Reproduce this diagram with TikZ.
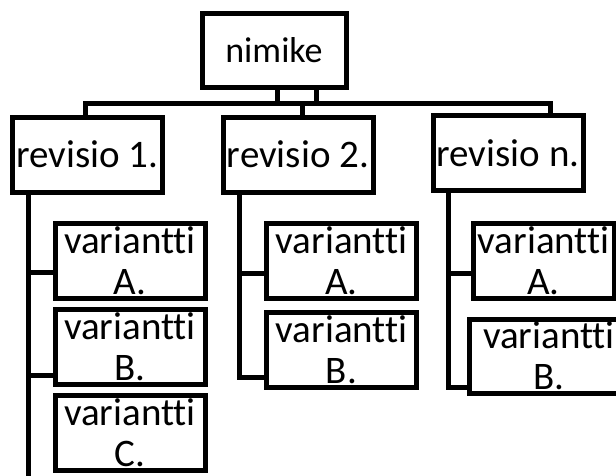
\documentclass[tikz,border=0pt]{standalone}
\usepackage{fontspec}
\setmainfont{Carlito}[Ligatures=NoCommon]
\begin{document}
\begin{tikzpicture}[x=1pt,y=-1pt,
  line width=5pt,
  box/.style={draw, line width=5pt, fill=white, inner sep=0pt, minimum width=150pt, minimum height=75pt, align=center, font=\fontsize{39}{41}\selectfont},
  conn/.style={draw, line width=5pt}]
\useasboundingbox (0,0) rectangle (616,475);
\clip (0,0) rectangle (616,475);
% nodes
\node[box, minimum width=144pt, minimum height=74pt, font=\fontsize{36}{40}\selectfont] (nimike) at (274,50) {nimike};
\node[box] (r1) at (87.5,154.5) {revisio 1.};
\node[box] (r2) at (298,154.5) {revisio 2.};
\node[box] (rn) at (508,153) {revisio n.};
\node[box] (v1a) at (130,260.5) {variantti\\A.};
\node[box] (v1b) at (130,346.5) {variantti\\B.};
\node[box] (v1c) at (130,433) {variantti\\C.};
\node[box] (v2a) at (341.5,260.5) {variantti\\A.};
\node[box] (v2b) at (341.5,349.5) {variantti\\B.};
\node[box, minimum width=141pt] (vna) at (543.5,260.5) {variantti\\A.};
\node[box, minimum width=160pt, minimum height=74pt] (vnb) at (549,356) {variantti\\B.};
% coordinates
\coordinate (busL) at (85,103);
\coordinate (busR) at (550,103);
\coordinate (bus2) at (302,103);
\coordinate (nl) at (277,103);
\coordinate (nr) at (316,103);
\coordinate (t1) at (28,480);
\coordinate (t2) at (239,377);
\coordinate (tn) at (448,387);
% connectors
\draw[conn] (busL |- r1.north) -- (busL) -- (busR) -- (busR |- rn.north);
\draw[conn] (bus2) -- (bus2 |- r2.north);
\draw[conn] (nl |- nimike.south) -- (nl);
\draw[conn] (nr |- nimike.south) -- (nr);
\draw[conn] (t1 |- r1.south) -- (t1);
\draw[conn] (t1 |- v1a.west) ++(0,12) -- ([yshift=-12pt]v1a.west);
\draw[conn] (t1 |- v1b.west) ++(0,28.5) -- ([yshift=-28.5pt]v1b.west);
\draw[conn] (t2 |- r2.south) -- (t2) -- (t2 -| v2b.west);
\draw[conn] (t2 |- v2a.west) ++(0,12.5) -- ([yshift=-12.5pt]v2a.west);
\draw[conn] (tn |- rn.south) -- (tn) -- (tn -| vnb.west);
\draw[conn] (tn |- vna.west) ++(0,12.5) -- ([yshift=-12.5pt]vna.west);
\end{tikzpicture}
\end{document}
